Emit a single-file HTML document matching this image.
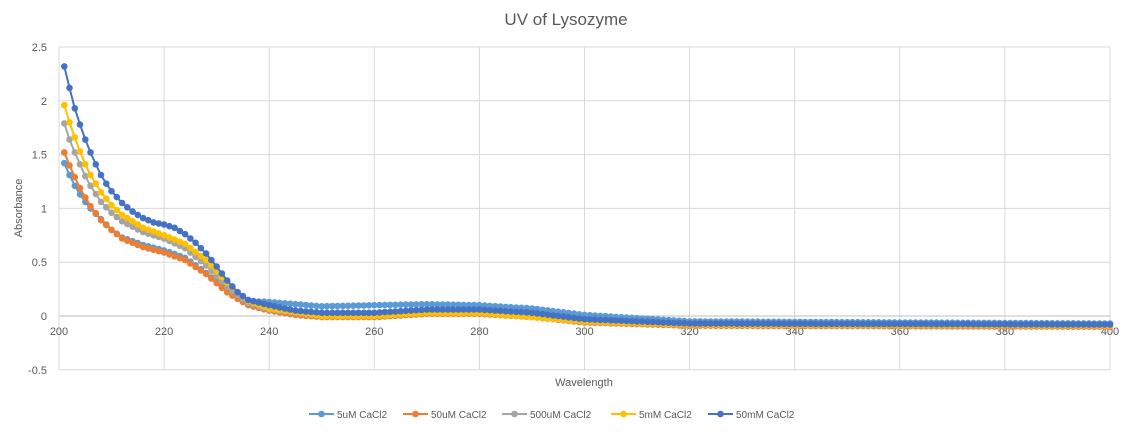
<!DOCTYPE html>
<html><head><meta charset="utf-8"><style>
html,body{margin:0;padding:0;background:#fff;}
svg{display:block;font-family:"Liberation Sans",sans-serif;}
</style></head><body>
<svg id="c" width="1133" height="435" xmlns="http://www.w3.org/2000/svg">
<rect width="1133" height="435" fill="#fff"/>
<text x="566" y="25" font-size="17" fill="#595959" text-anchor="middle">UV of Lysozyme</text>
<g id="grid"></g>
<text transform="translate(22,208) rotate(-90)" font-size="11" fill="#595959" text-anchor="middle">Absorbance</text>
<text x="584" y="386" font-size="11" fill="#595959" text-anchor="middle">Wavelength</text>
<g id="series"></g>
<g id="legend" font-size="10" fill="#595959"></g>
</svg>
<script>
var ns="http://www.w3.org/2000/svg";
function el(t,a,p,txt){var e=document.createElementNS(ns,t);for(var k in a)e.setAttribute(k,a[k]);if(txt!=null)e.textContent=txt;p.appendChild(e);return e;}
var X0=59,X1=1110,Y0=316,PY=107.6;
function sx(w){return X0+(w-200)*(X1-X0)/200;}
function sy(v){return Y0-v*PY;}
var g=document.getElementById('grid');
for(var v=-0.5;v<=2.51;v+=0.5){var y=sy(v);
 if(Math.abs(v)>1e-6) el('line',{x1:X0,x2:X1,y1:y,y2:y,stroke:'#d9d9d9','stroke-width':1},g);
 el('text',{x:X0-12,y:y+4,'font-size':11,fill:'#595959','text-anchor':'end'},g,(Math.round(v*10)/10).toString());}
for(var w=200;w<=400;w+=20){var x=sx(w);
 el('line',{x1:x,x2:x,y1:sy(2.5),y2:sy(-0.5),stroke:'#d9d9d9','stroke-width':1},g);
 el('text',{x:x,y:Y0+19,'font-size':11,fill:'#595959','text-anchor':'middle'},g,w);}
el('line',{x1:X0,x2:X1,y1:Y0,y2:Y0,stroke:'#bfbfbf','stroke-width':1},g);
var S=[
{n:'5uM CaCl2',c:'#5b9bd5',a:[[201,1.42],[202,1.31],[203,1.21],[204,1.13],[205,1.06],[206,1.0],[208,0.9],[210,0.8],[212,0.73],[216,0.66],[220,0.61],[224,0.54],[228,0.4],[232,0.23],[236,0.14],[240,0.13],[245,0.11],[250,0.09],[260,0.1],[270,0.11],[280,0.1],[290,0.07],[300,0.01],[320,-0.05],[400,-0.07]]},
{n:'50uM CaCl2',c:'#ed7d31',a:[[201,1.52],[202,1.4],[203,1.29],[204,1.19],[205,1.1],[206,1.02],[208,0.89],[210,0.8],[212,0.72],[216,0.64],[220,0.59],[224,0.52],[228,0.39],[232,0.22],[236,0.1],[240,0.05],[245,0.01],[250,-0.01],[260,-0.01],[270,0.02],[280,0.02],[290,-0.01],[300,-0.06],[320,-0.09],[400,-0.1]]},
{n:'500uM CaCl2',c:'#a5a5a5',a:[[201,1.79],[202,1.64],[203,1.52],[204,1.41],[205,1.3],[206,1.21],[208,1.06],[210,0.96],[212,0.88],[216,0.78],[220,0.72],[224,0.63],[228,0.47],[232,0.27],[236,0.12],[240,0.06],[250,0.0],[260,0.0],[270,0.03],[280,0.03],[300,-0.05],[320,-0.08],[400,-0.09]]},
{n:'5mM CaCl2',c:'#ffc000',a:[[201,1.96],[202,1.8],[203,1.66],[204,1.53],[205,1.41],[206,1.31],[208,1.15],[210,1.03],[212,0.94],[216,0.82],[220,0.75],[224,0.67],[228,0.52],[232,0.31],[236,0.14],[240,0.07],[250,0.0],[260,0.0],[270,0.03],[280,0.03],[300,-0.05],[320,-0.08],[400,-0.09]]},
{n:'50mM CaCl2',c:'#4472c4',a:[[201,2.32],[202,2.12],[203,1.93],[204,1.78],[205,1.64],[206,1.52],[207,1.41],[208,1.31],[209,1.23],[210,1.16],[212,1.05],[214,0.97],[216,0.91],[218,0.87],[220,0.85],[222,0.82],[224,0.76],[226,0.68],[228,0.58],[230,0.46],[232,0.33],[234,0.22],[236,0.15],[240,0.1],[245,0.05],[250,0.03],[260,0.03],[270,0.06],[280,0.06],[290,0.03],[300,-0.03],[320,-0.07],[400,-0.08]]}];
function interp(a,w){for(var i=0;i<a.length-1;i++){if(w>=a[i][0]&&w<=a[i+1][0]){var t=(w-a[i][0])/(a[i+1][0]-a[i][0]);return a[i][1]+t*(a[i+1][1]-a[i][1]);}}return a[a.length-1][1];}
var sg=document.getElementById('series');
S.forEach(function(s){var pts=[];for(var w=201;w<=400;w++){pts.push([sx(w),sy(interp(s.a,w))]);}
 el('polyline',{points:pts.map(function(p){return p[0].toFixed(1)+','+p[1].toFixed(1)}).join(' '),fill:'none',stroke:s.c,'stroke-width':2},sg);
 pts.forEach(function(p){el('circle',{cx:p[0].toFixed(1),cy:p[1].toFixed(1),r:3.3,fill:s.c},sg);});});
var lg=document.getElementById('legend');var lx=[309,403,502,611,708];
S.forEach(function(s,i){var x=lx[i],y=414;
 el('line',{x1:x,x2:x+25,y1:y,y2:y,stroke:s.c,'stroke-width':2},lg);
 el('circle',{cx:x+12.5,cy:y,r:3.3,fill:s.c},lg);
 el('text',{x:x+28,y:y+4},lg,s.n);});
</script>
</body></html>
